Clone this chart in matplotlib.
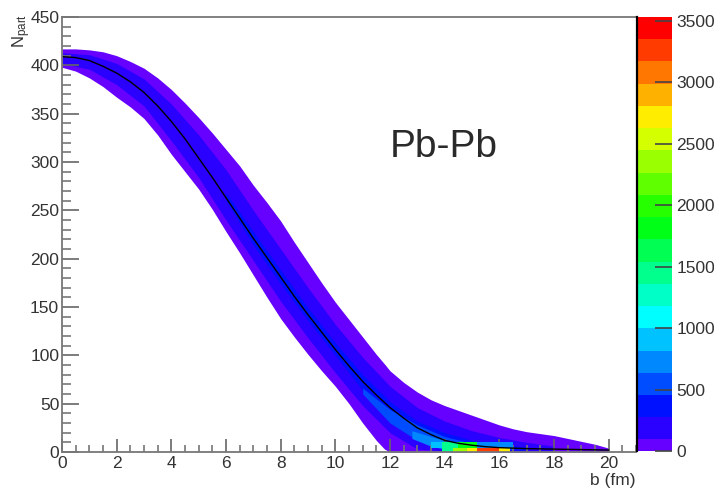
import numpy as np
import matplotlib
matplotlib.use("Agg")
import matplotlib.pyplot as plt
from matplotlib.colors import ListedColormap, BoundaryNorm
import matplotlib.cm as cm

plt.rcParams['font.family'] = ['Liberation Sans', 'DejaVu Sans']
plt.rcParams['mathtext.fontset'] = 'custom'
plt.rcParams['mathtext.rm'] = 'Liberation Sans'
plt.rcParams['mathtext.it'] = 'Liberation Sans:italic'

# ---------------- data ----------------
# outer envelope of the populated region (counts in lowest colour band)
b_outer = [0, 0.5, 1, 1.5, 2, 2.5, 3, 3.5, 4, 4.5, 5, 5.5, 6, 6.5, 7, 7.5, 8, 8.5, 9, 9.5,
           10, 10.5, 11, 11.5, 11.8, 12, 12.5, 13, 13.5, 14, 14.5, 15, 15.5, 16, 16.5, 17,
           17.5, 18, 18.5, 19, 19.5, 20]
n_outer_hi = [417, 417, 416, 414, 410, 404, 397, 387, 375, 361, 346, 330, 313, 296, 276, 258,
              239, 217, 196, 175, 155, 137, 119, 101, 91, 84, 72, 62, 54, 48, 43, 38, 33, 28,
              24, 21, 19, 17, 14, 11, 8, 4]
n_outer_lo = [398, 394, 387, 378, 367, 357, 345, 328, 308, 290, 272, 251, 228, 206, 183, 160,
              138, 119, 101, 84, 68, 50, 30, 12, 3, 0, 0, 0, 0, 0, 0, 0, 0, 0,
              0, 0, 0, 0, 0, 0, 0, 0]

# inner, denser bands around the mean
b_in1 = [0, 1, 2, 3, 4, 5, 6, 7, 8, 9, 10, 11, 12, 13, 14, 15, 16, 17, 18]
n_in1_hi = [413, 411, 402, 386, 360, 328, 292, 250, 210, 170, 132, 98, 68, 46, 32, 22, 15, 10, 6]
n_in1_lo = [402, 396, 380, 358, 322, 284, 240, 198, 156, 118, 82, 48, 20, 3, 1, 1, 1, 1, 1]

b_in2 = [6, 7, 8, 9, 10, 11, 12, 13, 14, 15, 16, 17]
n_in2_hi = [268, 228, 188, 149, 113, 80, 52, 32, 20, 12, 8, 5]
n_in2_lo = [260, 214, 174, 136, 100, 64, 36, 14, 3, 2, 2, 2]

b_in3 = [11.0, 12, 13, 14, 15, 16, 16.5]
n_in3_hi = [66, 44, 28, 16, 9, 6, 4]
n_in3_lo = [60, 30, 12, 4, 2, 2, 3]

b_in4 = [12.8, 13.5, 14.0, 14.5]
n_in4_hi = [22, 16, 12, 8]
n_in4_lo = [14, 6, 3, 3]

# representative counts of each layer
layer_counts = [50, 180, 360, 550, 700]

# densest cells along the axis
rowA_b_edges = [13.9, 14.3, 14.8, 15.2, 15.6, 16.0, 16.4]
rowA_n_edges = [0, 4.5]
rowA_counts = [1500, 2300, 2700, 3200, 3300, 2800]
rowB_b_edges = [13.5, 13.9, 14.5, 15.2, 16.5]
rowB_n_edges = [4.5, 10]
rowB_counts = [900, 1400, 1900, 650]

# mean profile
b_mean = [0, 0.5, 1, 1.5, 2, 2.5, 3, 3.5, 4, 4.5, 5, 5.5, 6, 6.5, 7, 7.5, 8, 8.5, 9, 9.5,
          10, 10.5, 11, 11.5, 12, 12.5, 13, 13.5, 14, 14.5, 15, 15.5, 16, 17, 18, 19, 20]
n_mean = [409, 408, 405, 399, 392, 383, 372, 358, 342, 324, 304, 284, 263, 242, 221, 201,
          181, 161, 142, 124, 106, 89, 73, 59, 46, 35, 25, 18, 12, 9, 7, 5.5, 4.5, 3.5, 3, 2.5, 2]

# colour scale
levels = [0, 94, 275, 456, 637, 818, 999, 1180, 1361, 1542, 1723, 1904, 2085,
          2266, 2447, 2628, 2809, 2990, 3171, 3352, 3533]
palette = ['#6600FF', '#2A00FF', '#0011FF', '#004DFF', '#0088FF', '#00C2FF', '#00FDFF',
           '#00FFC7', '#00FF8C', '#00FF52', '#00FF16', '#25FF00', '#5FFF00', '#9AFF00',
           '#D4FF00', '#FFED00', '#FFB100', '#FF7600', '#FF3B00', '#FF0000']
cbar_ticks = [0, 500, 1000, 1500, 2000, 2500, 3000, 3500]
x_ticks = [0, 2, 4, 6, 8, 10, 12, 14, 16, 18, 20]
y_ticks = [0, 50, 100, 150, 200, 250, 300, 350, 400, 450]

# ---------------- figure ----------------
W, H = 714, 491
fig = plt.figure(figsize=(W / 100, H / 100), dpi=100)
ax = fig.add_axes([62 / W, 1 - 452 / H, (636 - 62) / W, (452 - 17) / H])
cax = fig.add_axes([637 / W, 1 - 451 / H, 35 / W, (451 - 17) / H])

cmap = ListedColormap(palette)
norm = BoundaryNorm(levels, cmap.N)

def col(v):
    return cmap(norm(v))

layers = [(b_outer, n_outer_lo, n_outer_hi), (b_in1, n_in1_lo, n_in1_hi),
          (b_in2, n_in2_lo, n_in2_hi), (b_in3, n_in3_lo, n_in3_hi),
          (b_in4, n_in4_lo, n_in4_hi)]
for i, (bx, lo, hi) in enumerate(layers):
    ax.fill_between(bx, lo, hi, color=col(layer_counts[i]), lw=0, zorder=1 + 0.1 * i)

for be, ne, cnt in [(rowA_b_edges, rowA_n_edges, rowA_counts), (rowB_b_edges, rowB_n_edges, rowB_counts)]:
    ax.pcolormesh(be, ne, np.array([cnt]), cmap=cmap, norm=norm, zorder=1.8)

ax.plot(b_mean, n_mean, color='black', lw=1.0, zorder=2.2)

ax.set_xlim(0, 21)
ax.set_ylim(0, 450)
ax.set_xticks(x_ticks)
ax.set_yticks(y_ticks)
ax.set_xticks(np.arange(0, 21.01, 0.5), minor=True)
ax.set_yticks(np.arange(0, 450.1, 10), minor=True)
ax.tick_params(axis='x', which='major', direction='in', length=9.5, width=1.2, color='#666666',
               labelsize=12.5, labelcolor='#333333', pad=3)
ax.tick_params(axis='x', which='minor', direction='in', length=5, width=1.2, color='#777777')
ax.tick_params(axis='y', which='major', direction='in', length=12, width=1.2, color='#666666',
               labelsize=12.5, labelcolor='#333333', pad=2)
ax.tick_params(axis='y', which='minor', direction='in', length=6.5, width=1.2, color='#777777')
for s in ['left', 'bottom', 'top']:
    ax.spines[s].set_color('#777777')
    ax.spines[s].set_linewidth(1.3)
ax.spines['right'].set_visible(False)

# colour bar
sm = cm.ScalarMappable(norm=norm, cmap=cmap)
cb = fig.colorbar(sm, cax=cax, spacing='proportional', ticks=cbar_ticks)
cb.outline.set_visible(False)
cax.set_ylim(0, 3533)
cax.yaxis.set_ticks_position('right')
cax.tick_params(axis='y', direction='in', length=12, width=1.2, color='#444444',
                labelsize=12.5, labelcolor='#333333', pad=3)
cax.minorticks_off()
cax.set_yticklabels([str(t) for t in cbar_ticks])
cax.plot([0, 0], [0, 3533], color='black', lw=1.6, clip_on=False, zorder=5)

# texts
fig.text(444 / W, 1 - 147 / H, 'Pb-Pb', fontsize=28, color='#2a2a2a', ha='center', va='center')
fig.text(635 / W, 1 - 480 / H, 'b (fm)', fontsize=12.5, color='#333333', ha='right', va='center')
fig.text(22 / W, 1 - 14 / H, r'N$_{\rm part}$', fontsize=12, color='#333333',
         rotation=90, ha='center', va='top')

fig.savefig('out.png', dpi=100)
